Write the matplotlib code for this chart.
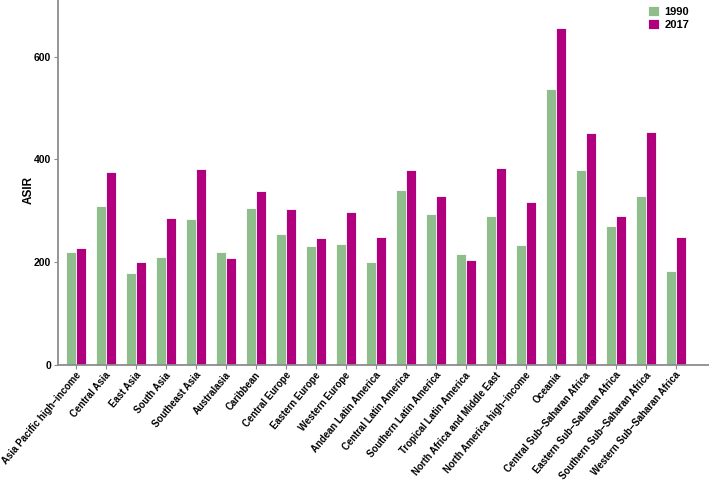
import matplotlib
matplotlib.use("Agg")
import matplotlib.pyplot as plt
import matplotlib.transforms as mtransforms
import numpy as np

# --- data ---
regions = ["Asia Pacific high\u2212income", "Central Asia", "East Asia", "South Asia",
           "Southeast Asia", "Australasia", "Caribbean", "Central Europe",
           "Eastern Europe", "Western Europe", "Andean Latin America",
           "Central Latin America", "Southern Latin America", "Tropical Latin America",
           "North Africa and Middle East", "North America high\u2212income", "Oceania",
           "Central Sub\u2212Saharan Africa", "Eastern Sub\u2212Saharan Africa",
           "Southern Sub\u2212Saharan Africa", "Western Sub\u2212Saharan Africa"]
asir_1990 = [220, 309, 178, 210, 284, 219, 305, 255, 232, 235, 201,
             341, 294, 216, 290, 234, 537, 380, 270, 328, 182]
asir_2017 = [228, 376, 200, 285, 381, 208, 339, 304, 247, 297, 249,
             379, 329, 205, 383, 316, 655, 452, 289, 453, 249]
years = ["1990", "2017"]

plt.rcParams['font.family'] = ['Liberation Sans', 'DejaVu Sans']

fig = plt.figure(figsize=(7.09, 4.82), dpi=100)
ax = fig.add_axes([0.082, 0.243, 0.918, 0.757])

x = np.arange(len(regions))
w = 0.34
ax.bar(x - w / 2, asir_1990, w, color='#8FBE8C', edgecolor='white', linewidth=0.6, label=years[0])
ax.bar(x + w / 2, asir_2017, w, color='#B0007E', edgecolor='white', linewidth=0.6, label=years[1])

ax.set_xlim(-0.59, 21.1)
ax.set_ylim(0, 710)
ax.set_yticks([0, 200, 400, 600])
ax.set_xticks(x)
ax.set_xticklabels([])
# rotated category labels, ends sitting just below each tick
offs = mtransforms.ScaledTranslation(3 / 100, -8.5 / 100, fig.dpi_scale_trans)
for i, name in enumerate(regions):
    ax.text(x[i], 0, name, transform=ax.get_xaxis_transform() + offs,
            rotation=50, ha='right', va='center', rotation_mode='anchor',
            fontsize=6.9, fontweight='bold')
for lab in ax.get_yticklabels():
    lab.set_fontweight('bold')
    lab.set_fontsize(7.5)
ax.set_ylabel("ASIR", fontsize=8.5, fontweight='bold')
ax.yaxis.set_label_coords(-0.036, 0.48)

for s in ['top', 'right']:
    ax.spines[s].set_visible(False)
for s in ['left', 'bottom']:
    ax.spines[s].set_color('#8c8c8c')
    ax.spines[s].set_linewidth(1.3)
ax.tick_params(axis='both', colors='#8c8c8c', length=3, width=0.8, labelcolor='black')
ax.tick_params(axis='y', pad=2)

leg = ax.legend(loc='upper right', bbox_to_anchor=(0.985, 1.01), frameon=False,
                handlelength=1.0, handleheight=1.0, handletextpad=0.5,
                labelspacing=0.2, prop={'weight': 'bold', 'size': 8})

fig.savefig("out.png", dpi=100)
